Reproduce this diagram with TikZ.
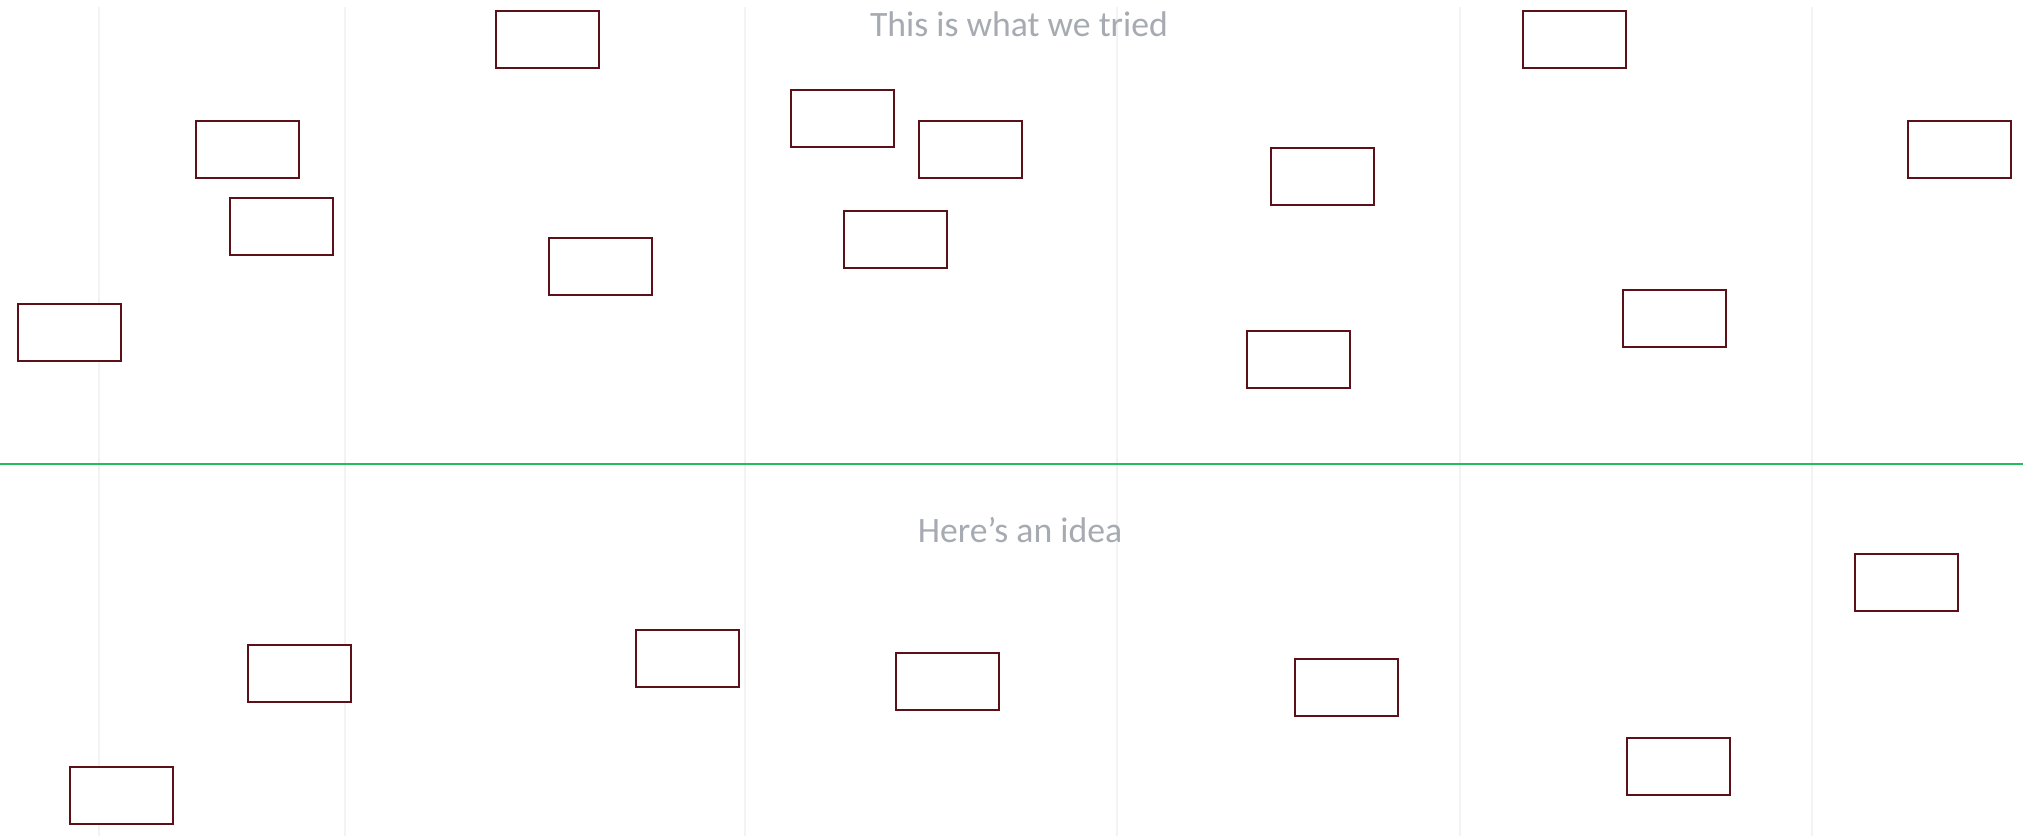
\documentclass[tikz,border=0pt]{standalone}
\usepackage{fontspec}
\setmainfont{Carlito}
\definecolor{boxred}{RGB}{92,16,24}
\definecolor{sepgreen}{RGB}{36,188,96}
\definecolor{gridgrey}{RGB}{243,243,243}
\definecolor{labelgrey}{RGB}{166,171,178}
\begin{document}
\begin{tikzpicture}[x=1pt,y=-1pt,
  card/.style={draw=boxred,line width=2pt,fill=white,minimum width=103pt,minimum height=57pt,inner sep=0pt},
  gridline/.style={draw=gridgrey,line width=1.6pt},
  title/.style={text=labelgrey,anchor=base,inner sep=0pt,font=\fontsize{35.7}{40}\selectfont}]
\useasboundingbox[fill=white] (0,0) rectangle (2023,836);
% faint vertical guides
\foreach \gx [count=\i] in {99,345,745,1117,1460,1812}{
  \coordinate (gt\i) at (\gx,7);
  \coordinate (gb\i) at (\gx,836);
  \draw[gridline] (gt\i) -- (gb\i);
}
% separator
\coordinate (sepL) at (0,464);
\coordinate (sepR) at (2023,464);
\draw[draw=sepgreen,line width=2.6pt] (sepL) -- (sepR);
% labels
\node[title] (toplabel) at (1019,36.5) {This is what we tried};
\node[title] (botlabel) at (1020,542) {Here’s an idea};
% top cards
\node[card] (a) at (547.5,39.5) {};
\node[card] (b) at (247,149) {};
\node[card] (c) at (281.5,226.5) {};
\node[card] (d) at (600.5,266.5) {};
\node[card] (e) at (69,332) {};
\node[card] (f) at (842.5,118.5) {};
\node[card] (g) at (970.5,149.5) {};
\node[card] (h) at (895,239.5) {};
\node[card] (i) at (1322.5,176.5) {};
\node[card] (j) at (1298.5,359.5) {};
\node[card] (k) at (1574.5,39.5) {};
\node[card] (l) at (1959.5,149.5) {};
\node[card] (m) at (1674.5,318.5) {};
% bottom cards
\node[card] (n) at (299,673.5) {};
\node[card] (o) at (687,658.5) {};
\node[card] (p) at (947,681.5) {};
\node[card] (q) at (121.5,795.5) {};
\node[card] (r) at (1346.5,687.5) {};
\node[card] (s) at (1678.5,766.5) {};
\node[card] (t) at (1906,582) {};
\end{tikzpicture}
\end{document}
